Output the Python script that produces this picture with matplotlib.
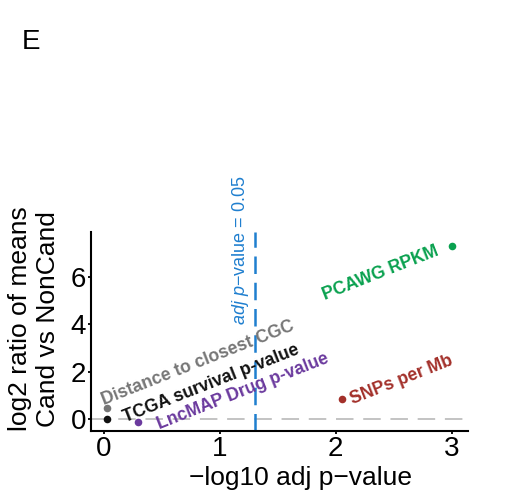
import math

import matplotlib
matplotlib.use("Agg")
import matplotlib.pyplot as plt

plt.rcParams["font.family"] = ["Liberation Sans", "DejaVu Sans"]
plt.rcParams["mathtext.fontset"] = "custom"
plt.rcParams["mathtext.rm"] = "Liberation Sans"
plt.rcParams["mathtext.it"] = "Liberation Sans:italic"

FEATURES = ["PCAWG RPKM", "SNPs per Mb", "Distance to closest CGC",
            "TCGA survival p-value", "LncMAP Drug p-value"]
NEG_LOG10_P = [3.0, 2.05, 0.03, 0.03, 0.30]
LOG2_RATIO = [7.3, 0.87, 0.49, 0.03, -0.11]
COLORS = ["#0aa14f", "#a3302a", "#767676", "#111111", "#6b3a9e"]
# label anchor positions (data coords)
LABEL_X = [2.39, 2.57, 0.81, 0.93, 1.20]
LABEL_Y = [6.13, 1.65, 2.35, 1.51, 1.16]
THRESHOLD = 0.05
X_TICKS = [0, 1, 2, 3]
Y_TICKS = [0, 2, 4, 6]

fig = plt.figure(figsize=(5.1, 4.95), dpi=100)
ax = fig.add_axes([0.178, 0.129, 0.74, 0.402])

vx = -math.log10(THRESHOLD)
ax.axhline(0, color="#c3c3c3", linestyle=(0, (9, 5)), linewidth=1.4, zorder=1)
ax.axvline(vx, color="#1f7fcf", linestyle=(0, (7, 3.5)), linewidth=1.8, zorder=1)
ax.text(vx - 0.12, 7.1, r"$\it{adj}$ $\it{p}$−value = 0.05", rotation=90,
        color="#1f7fcf", fontsize=13, ha="center", va="center", clip_on=False)

for name, x, y, c, lx, ly in zip(FEATURES, NEG_LOG10_P, LOG2_RATIO, COLORS,
                                  LABEL_X, LABEL_Y):
    ax.scatter([x], [y], s=30, color=c, zorder=3, linewidths=0)
    ax.text(lx, ly, name, color=c, fontsize=12.7, fontweight="bold",
            rotation=21.5, rotation_mode="anchor", ha="center", va="center",
            zorder=4)

ax.set_xlim(-0.11, 3.14)
ax.set_ylim(-0.49, 7.87)
ax.set_xticks(X_TICKS)
ax.set_yticks(Y_TICKS)
ax.tick_params(labelsize=20, width=1.3, length=2.5, color="black", pad=1)
for s in ["top", "right"]:
    ax.spines[s].set_visible(False)
for s in ["left", "bottom"]:
    ax.spines[s].set_linewidth(1.5)
ax.set_xlabel("−log10 adj p−value", fontsize=19)
ax.set_ylabel("log2 ratio of means\nCand vs NonCand", fontsize=19)
ax.xaxis.set_label_coords(0.557, -0.176)
ax.yaxis.set_label_coords(-0.082, 0.563)

fig.text(0.043, 0.915, "E", fontsize=20, ha="left", va="center")

fig.savefig("out.png", dpi=100)
